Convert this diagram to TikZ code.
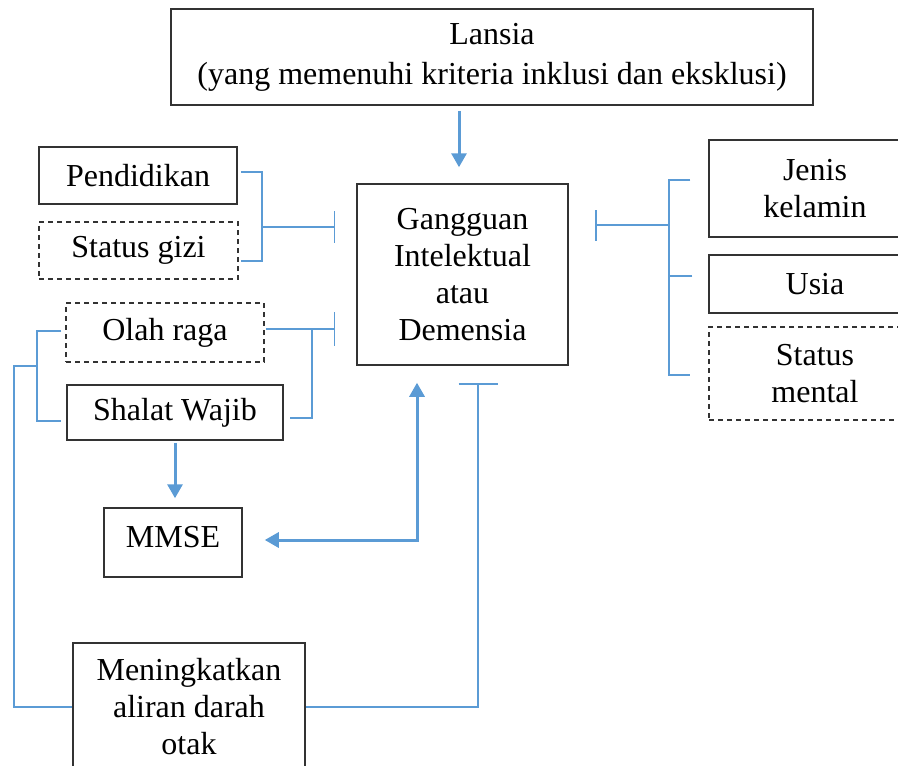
\documentclass[tikz,border=0pt]{standalone}
\usepackage{fontspec}
\setmainfont{Liberation Serif}
\usetikzlibrary{arrows.meta,calc}
\definecolor{biru}{RGB}{91,155,213}
\tikzset{
	kotak/.style 2 args={draw=black!80, line width=0.75pt, align=center, inner sep=0pt,
		minimum width=#1*0.5pt, minimum height=#2*0.5pt, font=\fontsize{16}{18.5}\selectfont},
	kotakputus/.style 2 args={kotak={#1}{#2}, dash pattern=on 2.5pt off 2pt},
	garis/.style={draw=biru, line width=0.75pt},
	panah/.style={draw=biru, line width=1.5pt, >={Triangle[length=7pt,width=7.5pt]}},
}

\begin{document}
\begin{tikzpicture}[x={(0.5pt,0pt)}, y={(0pt,-0.5pt)}]
	\useasboundingbox (0,0) rectangle (898,765);
	\clip (0,0) rectangle (898,765);
	\node[kotak={642}{96}, font=\fontsize{16}{20}\selectfont] (lansia) at (492,57) {Lansia\\(yang memenuhi kriteria inklusi dan eksklusi)};
	\node[kotak={211}{181}] (gangguan) at (462.5,274.5) {Gangguan\\Intelektual\\atau\\Demensia};
	\node[kotak={198}{57}] (pendidikan) at (138,175.5) {Pendidikan};
	\node[kotakputus={199}{57}] (gizi) at (138.5,250.5) {Status gizi};
	\node[kotakputus={198}{59}] (olahraga) at (165,332.5) {Olah raga};
	\node[kotak={216}{55}] (shalat) at (175,412.5) {Shalat Wajib};
	\node[kotak={138}{69}, text height=11pt, text depth=6.5pt] (mmse) at (173,542.5) {MMSE};
	\node[kotak={232}{128}] (meningkatkan) at (189,707) {Meningkatkan\\aliran darah\\otak};
	\node[kotak={212}{97}] (jenis) at (815,188.5) {Jenis\\kelamin};
	\node[kotak={212}{58}] (usia) at (815,284) {Usia};
	\node[kotakputus={212}{93}] (mental) at (815,373.5) {Status\\mental};

	\coordinate (k1) at (262,227);
	\coordinate (t1) at (335,227);
	\coordinate (k2) at (312,329);
	\coordinate (t2) at (335,329);
	\coordinate (k3) at (37,366);
	\coordinate (k4) at (14,366);
	\coordinate (t3) at (478,383);
	\coordinate (k5) at (669,225);
	\coordinate (t4) at (595,225);

	\draw[garis] ($(pendidikan.east)+(3,-3.5)$) -| (k1) |- ($(gizi.east)+(2,10.5)$);
	\draw[garis, -{Bar[width=16pt]}] (k1) -- (t1);
	\draw[garis] ($(olahraga.east)+(1,-3.5)$) -- (k2) |- ($(shalat.east)+(6,5.5)$);
	\draw[garis, -{Bar[width=17pt]}] (k2) -- (t2);
	\draw[garis] ($(olahraga.west)+(-4,-1.5)$) -| (k3) |- ($(shalat.west)+(-5,8.5)$);
	\draw[garis] (k3) -- (k4) |- (meningkatkan.west);
	\draw[garis, -{Bar[width=19.5pt]}] (meningkatkan.east) -| (t3);
	\draw[garis] ($(jenis.west)+(-18,-8.5)$) -| (k5) |- ($(mental.west)+(-18,1.5)$);
	\draw[garis] ($(usia.west)+(-16,-8)$) -- ++(-22,0);
	\draw[garis, -{Bar[width=15.5pt]}] (k5) -- (t4);

	\draw[panah, ->] ($(lansia.south -| gangguan.north)+(-3.5,5)$) -- ($(gangguan.north)+(-3.5,-16)$);
	\draw[panah, ->] ($(shalat.south)+(0,2)$) -- ($(shalat.south |- mmse.north)+(0,-9)$);
	\draw[panah, <->] ($(gangguan.south)+(-45.5,17)$) |- ($(mmse.east)+(22,-2.5)$);
\end{tikzpicture}
\end{document}
